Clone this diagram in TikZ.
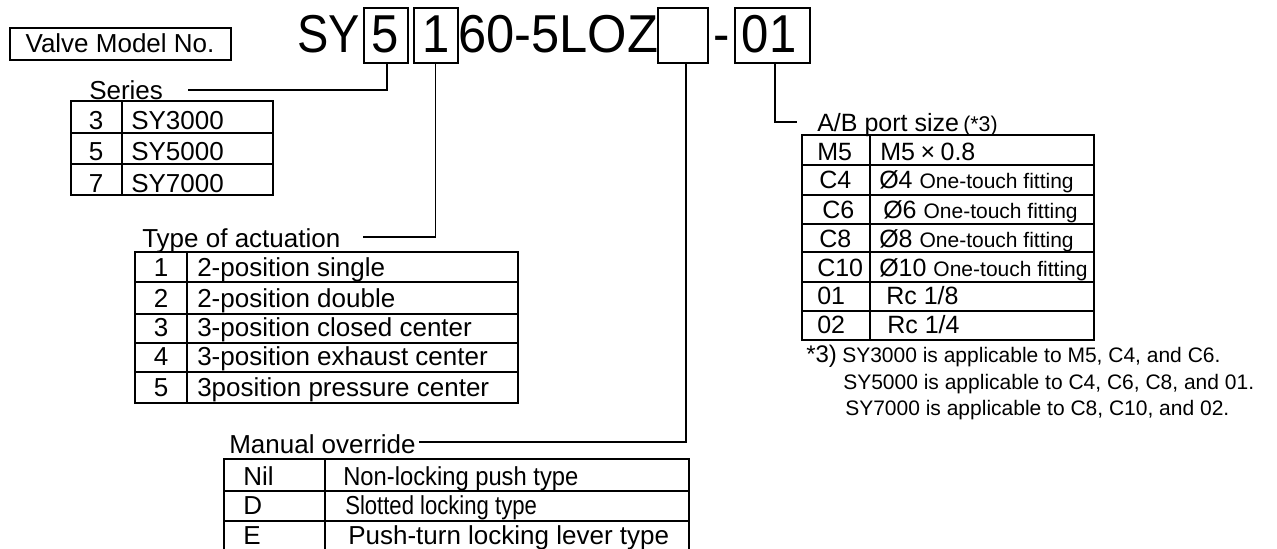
\documentclass[tikz,border=0pt]{standalone}
\usepackage{fontspec}
\setmainfont{Liberation Sans}
\newcommand{\fsz}[1]{\fontsize{#1}{#1}\selectfont}
\begin{document}
\begin{tikzpicture}[x=0.75pt,y=-0.75pt,
  lbl/.style={inner sep=0pt, anchor=base west, font=\fsz{19.5}},
  num/.style={inner sep=0pt, anchor=base, font=\fsz{19.5}},
  port/.style={inner sep=0pt, anchor=base west, font=\fsz{18.75}},
  note/.style={inner sep=0pt, anchor=base west, font=\fsz{15.75}},
  big/.style={inner sep=0pt, anchor=base, font=\fsz{40}},
  codebox/.style={draw, line width=1.5pt, inner sep=0pt, minimum height=41.25pt},
  conn/.style={line width=1.1pt},
  grid/.style={line width=1.4pt}
]
\useasboundingbox (0,0) rectangle (1277,549);
\fill[white] (0,0) rectangle (1277,549);

% ---------- header ----------
\node[draw, line width=1.5pt, minimum width=165.75pt, minimum height=24pt, inner sep=0pt] (vmbox) at (120.5,44) {};
\node[num] (vmtxt) at (120,53) {Valve Model No.};

\node[big, anchor=base west] (sy) at (297,53) {\scalebox{0.88}[1]{SY}};
\node[codebox, minimum width=33pt] (b5) at (385.5,36) {};
\node[big] (t5) at (385,53) {\scalebox{0.92}[1]{5}};
\node[codebox, minimum width=33pt] (b1) at (435.5,36) {};
\node[big] (t1) at (436,53) {\scalebox{0.92}[1]{1}};
\node[big, anchor=base west] (mid) at (458,53) {\scalebox{0.95}[1]{60-5LOZ}};
\node[codebox, minimum width=37.5pt] (bE) at (683,36) {};
\node[big] (dash) at (721.5,53) {\scalebox{0.92}[1]{-}};
\node[codebox, minimum width=56.25pt] (b01) at (772.5,36) {};
\node[big] (t01) at (769,53) {\scalebox{0.92}[1]{01}};

% ---------- connectors ----------
\coordinate (serEnd) at (188,90);
\draw[conn] ([xshift=1.1pt]b5.south) |- (serEnd);
\coordinate (actEnd) at (363,237);
\draw[conn] (b1.south) |- (actEnd);
\coordinate (manEnd) at (419,442);
\draw[conn] ([xshift=2.25pt]bE.south) |- (manEnd);
\coordinate (abEnd) at (797,122);
\draw[conn] ([xshift=1.9pt]b01.south) |- (abEnd);

% ---------- Series ----------
\node[lbl] (serT) at (89,100) {Series};
\draw[grid] (71,101) rectangle (273,195);
\draw[grid] (122,101) -- (122,195) (71,133) -- (273,133) (71,164) -- (273,164);
\node[num] (s3) at (96,130) {3};
\node[lbl] (s3t) at (131,130) {SY3000};
\node[num] (s5) at (96,161) {5};
\node[lbl] (s5t) at (131,161) {SY5000};
\node[num] (s7) at (96,192) {7};
\node[lbl] (s7t) at (131,192) {SY7000};

% ---------- Type of actuation ----------
\node[lbl] (actT) at (142,247) {Type of actuation};
\draw[grid] (135,252) rectangle (518,403);
\draw[grid] (187,252) -- (187,403) (135,282) -- (518,282) (135,314) -- (518,314)
  (135,343) -- (518,343) (135,372) -- (518,372);
\node[num] (a1) at (161,276) {1};
\node[lbl] (a1t) at (197,276) {2-position single};
\node[num] (a2) at (161,307) {2};
\node[lbl] (a2t) at (197,307) {2-position double};
\node[num] (a3) at (161,336) {3};
\node[lbl] (a3t) at (197,336) {3-position closed center};
\node[num] (a4) at (161,365) {4};
\node[lbl] (a4t) at (197,365) {3-position exhaust center};
\node[num] (a5) at (161,396) {5};
\node[lbl] (a5t) at (197,396) {3position pressure center};

% ---------- Manual override ----------
\node[lbl] (manT) at (229,453) {Manual override};
\draw[grid] (224,459) rectangle (689,552);
\draw[grid] (325,459) -- (325,552) (224,491) -- (689,491) (224,521) -- (689,521);
\node[lbl] (mNil) at (243,485) {Nil};
\node[lbl] (mNilt) at (343,485) {\scalebox{0.914}[1]{Non-locking push type}};
\node[lbl] (mD) at (243,514) {D};
\node[lbl] (mDt) at (345,514) {\scalebox{0.85}[1]{Slotted locking type}};
\node[lbl] (mE) at (243,544) {E};
\node[lbl] (mEt) at (348,544) {Push-turn locking lever type};

% ---------- A/B port size ----------
\node[port] (abT) at (817,132) {A/B port size};
\node[inner sep=0pt, anchor=base west, font=\fsz{16}] (abN) at (963,132) {(*3)};
\draw[grid] (802,135) rectangle (1094,340);
\draw[grid] (870,135) -- (870,340) (802,165) -- (1094,165) (802,195) -- (1094,195)
  (802,224) -- (1094,224) (802,252) -- (1094,252) (802,282) -- (1094,282) (802,311) -- (1094,311);
\node[port] (pM5) at (817,161) {M5};
\node[port] (pM5t) at (880,161) {M5\hspace{0.22em}×\hspace{0.22em}0.8};
\node[port] (pC4) at (819,189) {C4};
\node[port] (pC4t) at (879,189) {Ø4 {\fsz{15.75}One-touch fitting}};
\node[port] (pC6) at (822,218) {C6};
\node[port] (pC6t) at (883,218) {Ø6 {\fsz{15.75}One-touch fitting}};
\node[port] (pC8) at (819,247) {C8};
\node[port] (pC8t) at (879,247) {Ø8 {\fsz{15.75}One-touch fitting}};
\node[port] (pC10) at (817,276) {C10};
\node[port] (pC10t) at (879,276) {Ø10 {\fsz{15.75}One-touch fitting}};
\node[port] (p01) at (817,304) {01};
\node[port] (p01t) at (886,304) {Rc 1/8};
\node[port] (p02) at (817,333) {02};
\node[port] (p02t) at (887,333) {Rc 1/4};

% ---------- footnote ----------
\node[inner sep=0pt, anchor=base west, font=\fsz{18}] (fnm) at (806,362) {*3)};
\node[note] (fn1) at (842,362) {SY3000 is applicable to M5, C4, and C6.};
\node[note] (fn2) at (843,389) {SY5000 is applicable to C4, C6, C8, and 01.};
\node[note] (fn3) at (845,415) {SY7000 is applicable to C8, C10, and 02.};
\end{tikzpicture}
\end{document}
